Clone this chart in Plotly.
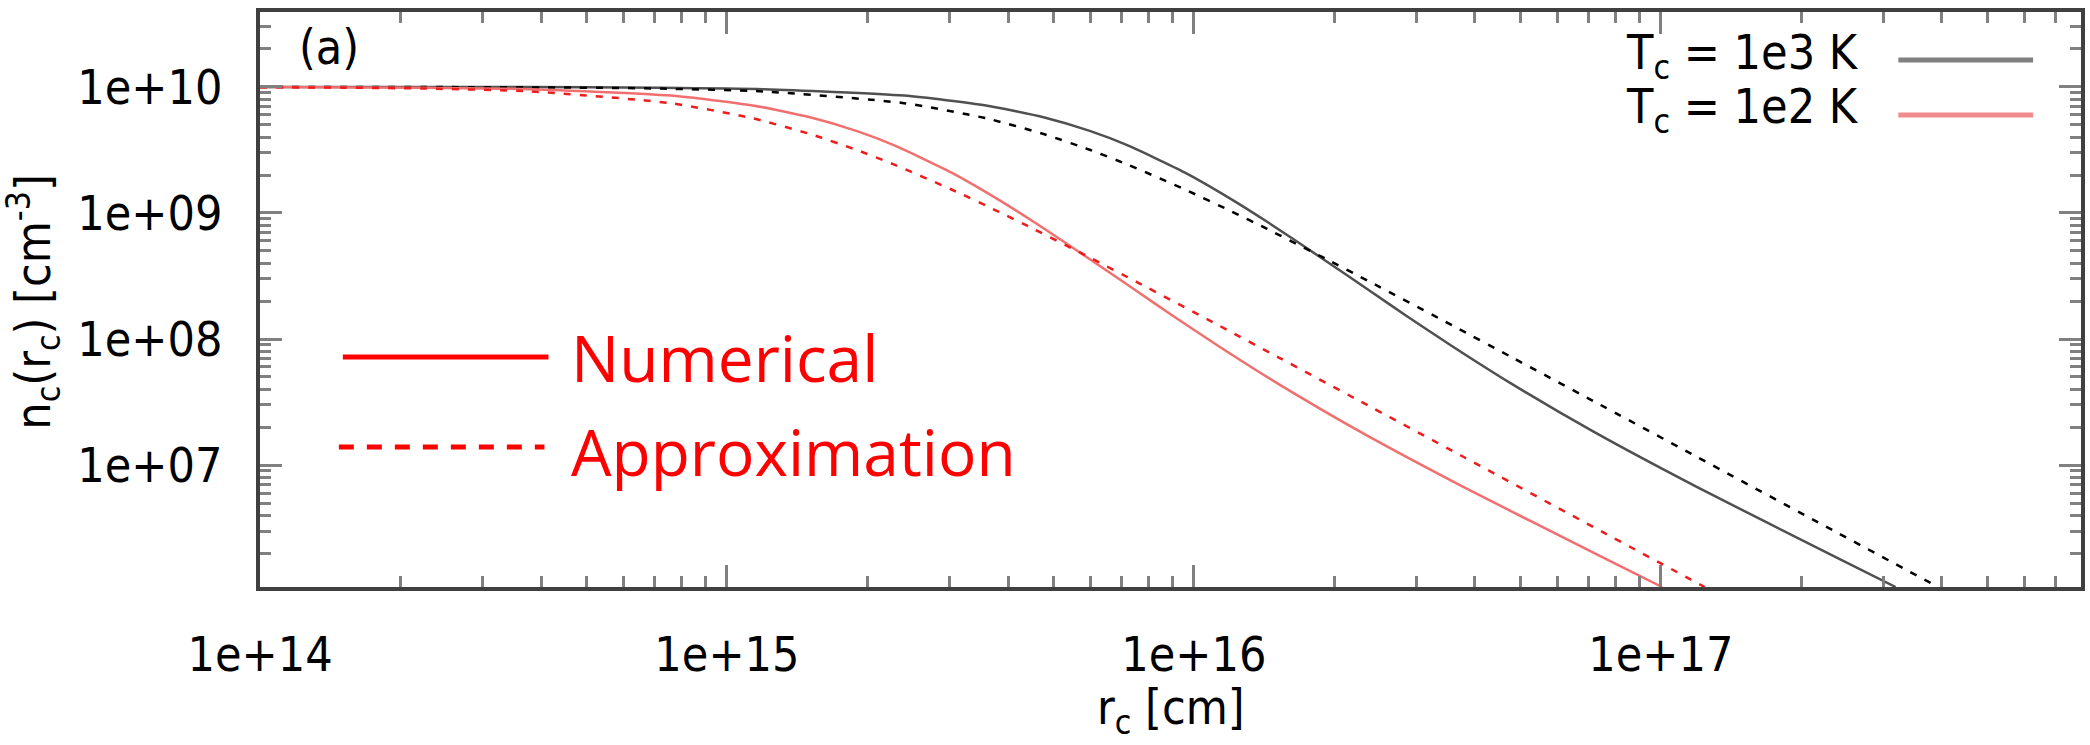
import numpy as np
import plotly.graph_objects as go

# ---- data (log10 values) ----
# T_c = 1e3 K, numerical (solid)
logr_1e3_num = [14.0, 14.557, 14.856, 15.078, 15.379, 15.555, 15.680, 15.777, 15.856, 15.981,
                16.078, 16.157, 16.282, 16.379, 16.458, 16.555, 16.680, 16.856, 17.078, 17.379, 17.503]
logn_1e3_num = [10.0, 9.9985, 9.9935, 9.982, 9.931, 9.853, 9.757, 9.651, 9.540, 9.320,
                9.114, 8.930, 8.621, 8.377, 8.177, 7.939, 7.646, 7.265, 6.825, 6.262, 6.033]
# T_c = 1e3 K, approximation (dashed)
logr_1e3_app = [14.0, 14.379, 14.680, 14.856, 15.078, 15.379, 15.555, 15.680, 15.777, 15.856,
                15.981, 16.078, 16.157, 16.282, 16.379, 16.555, 16.680, 16.856, 17.078, 17.379, 17.594]
logn_1e3_app = [10.0, 9.9985, 9.994, 9.9867, 9.964, 9.871, 9.751, 9.624, 9.501, 9.387,
                9.186, 9.017, 8.873, 8.637, 8.450, 8.105, 7.857, 7.507, 7.064, 6.462, 6.033]
# T_c = 1e2 K, numerical (solid)
logr_1e2_num = [14.0, 14.356, 14.578, 14.879, 15.055, 15.180, 15.277, 15.356, 15.481, 15.578,
                15.657, 15.782, 15.879, 15.958, 16.055, 16.180, 16.356, 16.578, 16.879, 17.003]
logn_1e2_num = [9.9987, 9.9935, 9.982, 9.931, 9.853, 9.757, 9.651, 9.540, 9.320, 9.114,
                8.930, 8.621, 8.377, 8.177, 7.939, 7.646, 7.265, 6.825, 6.262, 6.033]
# T_c = 1e2 K, approximation (dashed)
logr_1e2_app = [14.0, 14.180, 14.356, 14.578, 14.879, 15.055, 15.180, 15.277, 15.356, 15.481,
                15.578, 15.657, 15.782, 15.879, 16.055, 16.180, 16.356, 16.578, 16.879, 17.094]
logn_1e2_app = [9.9974, 9.994, 9.9867, 9.964, 9.871, 9.751, 9.624, 9.501, 9.387, 9.186,
                9.017, 8.873, 8.637, 8.450, 8.105, 7.857, 7.507, 7.064, 6.462, 6.033]

x_tickvals = [1e14, 1e15, 1e16, 1e17]
x_ticktext = ["1e+14", "1e+15", "1e+16", "1e+17"]
y_tickvals = [1e7, 1e8, 1e9, 1e10]
y_ticktext = ["1e+07", "1e+08", "1e+09", "1e+10"]

legend_labels = ["T<sub>c</sub> = 1e3 K", "T<sub>c</sub> = 1e2 K"]
style_labels = ["Numerical", "Approximation"]

GP_FONT = "DejaVu Sans Condensed, DejaVu Sans, sans-serif"
FS = 48


def pw(a):
    return np.power(10.0, np.array(a))


fig = go.Figure()
fig.add_trace(go.Scatter(x=pw(logr_1e3_num), y=pw(logn_1e3_num), mode="lines",
                         line=dict(color="#505050", width=2.5, shape="spline", smoothing=0.6),
                         showlegend=False))
fig.add_trace(go.Scatter(x=pw(logr_1e3_app), y=pw(logn_1e3_app), mode="lines",
                         line=dict(color="#000000", width=2.5, dash="7px,9px", shape="spline", smoothing=0.6),
                         showlegend=False))
fig.add_trace(go.Scatter(x=pw(logr_1e2_num), y=pw(logn_1e2_num), mode="lines",
                         line=dict(color="#f07070", width=2.5, shape="spline", smoothing=0.6),
                         showlegend=False))
fig.add_trace(go.Scatter(x=pw(logr_1e2_app), y=pw(logn_1e2_app), mode="lines",
                         line=dict(color="#ee1c1c", width=2.5, dash="7px,9px", shape="spline", smoothing=0.6),
                         showlegend=False))

axis_common = dict(
    type="log",
    showline=True, linecolor="#404040", linewidth=4, mirror="allticks",
    ticks="inside", ticklen=22, tickwidth=3, tickcolor="#808080",
    showgrid=False, zeroline=False,
    tickfont=dict(family=GP_FONT, size=FS, color="black"),
    minor=dict(ticks="inside", ticklen=11, tickwidth=3, tickcolor="#808080",
               dtick="D1", showgrid=False),
)

fig.update_xaxes(range=[14.0, 17.9], tickmode="array", tickvals=x_tickvals,
                 ticktext=x_ticktext, ticklabelstandoff=22, **axis_common)
fig.update_yaxes(range=[6.033, 10.594], tickmode="array", tickvals=y_tickvals,
                 ticktext=y_ticktext, ticklabelstandoff=24, **axis_common)

annotations = [
    dict(text="r<sub>c</sub> [cm]", x=0.5, y=-0.214, xref="paper", yref="paper",
         xanchor="center", yanchor="middle", showarrow=False,
         font=dict(family=GP_FONT, size=FS, color="black")),
    dict(text="n<sub>c</sub>(r<sub>c</sub>) [cm<sup>-3</sup>]", x=-0.1245, y=0.495,
         xref="paper", yref="paper", xanchor="center", yanchor="middle",
         textangle=-90, showarrow=False,
         font=dict(family=GP_FONT, size=FS, color="black")),
    dict(text="(a)", x=0.0203, y=0.940, xref="paper", yref="paper",
         xanchor="left", yanchor="middle", showarrow=False,
         font=dict(family=GP_FONT, size=FS, color="black")),
    dict(text=legend_labels[0], x=0.879, y=0.925, xref="paper", yref="paper",
         xanchor="right", yanchor="middle", showarrow=False,
         font=dict(family=GP_FONT, size=FS, color="black")),
    dict(text=legend_labels[1], x=0.879, y=0.831, xref="paper", yref="paper",
         xanchor="right", yanchor="middle", showarrow=False,
         font=dict(family=GP_FONT, size=FS, color="black")),
    dict(text=style_labels[0], x=0.1695, y=0.40, xref="paper", yref="paper",
         xanchor="left", yanchor="middle", showarrow=False,
         font=dict(family="Open Sans", size=64, color="#ff0000")),
    dict(text=style_labels[1], x=0.1695, y=0.235, xref="paper", yref="paper",
         xanchor="left", yanchor="middle", showarrow=False,
         font=dict(family="Open Sans", size=64, color="#ff0000")),
]

shapes = [
    dict(type="line", xref="paper", yref="paper", x0=0.8997, x1=0.9737, y0=0.9165, y1=0.9165,
         line=dict(color="#808080", width=5)),
    dict(type="line", xref="paper", yref="paper", x0=0.8997, x1=0.9737, y0=0.8209, y1=0.8209,
         line=dict(color="#f08c8c", width=5)),
    dict(type="line", xref="paper", yref="paper", x0=0.0455, x1=0.1584, y0=0.40, y1=0.40,
         line=dict(color="#ff0000", width=5)),
    dict(type="line", xref="paper", yref="paper", x0=0.0433, x1=0.1562, y0=0.2435, y1=0.2435,
         line=dict(color="#ff0000", width=5, dash="15px,13px")),
]

fig.update_layout(
    width=2090, height=745,
    margin=dict(l=260, r=5, t=12, b=158),
    paper_bgcolor="white", plot_bgcolor="white",
    annotations=annotations, shapes=shapes,
    showlegend=False,
)

fig.write_html("out.html")
